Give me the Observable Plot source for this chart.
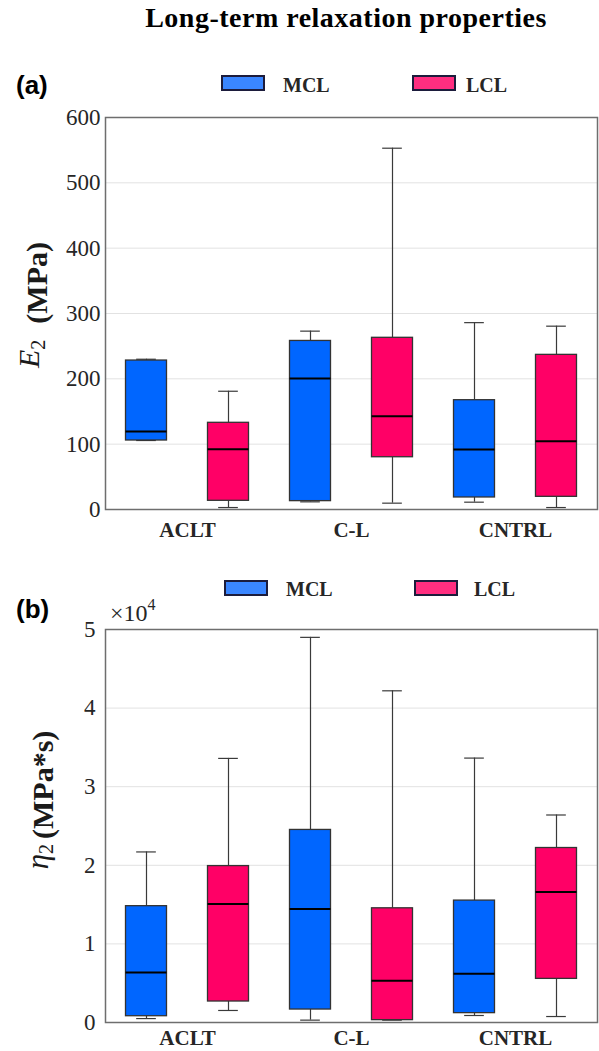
<!DOCTYPE html>
<html><head><meta charset="utf-8">
<script src="https://cdn.jsdelivr.net/npm/d3@7"></script>
<script src="https://cdn.jsdelivr.net/npm/@observablehq/plot@0.6"></script>
<style>
body{margin:0;background:#fff;}
#wrap{position:relative;width:599px;height:1051px;overflow:hidden;background:#fff;}
.abs{position:absolute;line-height:1;white-space:nowrap;}
.title{font-family:'Liberation Serif',serif;font-weight:bold;font-size:28px;letter-spacing:0.5px;color:#000;}
.plabel{font-family:'Liberation Sans',Arial,sans-serif;font-weight:bold;font-size:26px;color:#000;}
.legtxt{font-family:'Liberation Serif',serif;font-weight:bold;font-size:20px;color:#262626;}
.sw{position:absolute;box-sizing:border-box;border:2px solid #1c1c3c;}
.panel{position:absolute;left:0;}
.panel svg text{font-family:'Liberation Serif',serif;}
.panel svg [aria-label="x-axis tick label"] text{font-weight:bold;}
</style></head><body><div id="wrap"></div>
<script>
const groups = ["ACLT", "C-L", "CNTRL"];
const ligaments = ["MCL", "LCL"];
// box stats per group: [min, q1, median, q3, max]
const e2MCL = [[105.6,105.6,119.4,228,230],[11.7,12.8,200.5,258,273],[11.2,18.4,91.8,167.3,286]];
const e2LCL = [[3,13.3,92.3,132.7,181],[9.7,80,142.9,262.8,553],[3,19.4,104.6,236.7,280.6]];
// eta2 in units of 10^4 MPa*s
const eta2MCL = [[0.05,0.08,0.636,1.48,2.17],[0.03,0.165,1.445,2.45,4.90],[0.089,0.119,0.619,1.551,3.364]];
const eta2LCL = [[0.153,0.267,1.508,1.99,3.36],[0.03,0.03,0.53,1.453,4.22],[0.076,0.555,1.66,2.22,2.64]];
const e2Ticks = [0,100,200,300,400,500,600];
const eta2Ticks = [0,1,2,3,4,5];
const boxColors = {MCL:"#0066ff", LCL:"#ff0066"};
const legendColors = {MCL:"#3a86ff", LCL:"#ff2e80"};

const wrap = document.getElementById("wrap");

function rowsOf(mcl, lcl){
  const rows = [];
  groups.forEach((g,gi)=>{
    [mcl,lcl].forEach((arr,li)=>{
      const [min,q1,median,q3,max] = arr[gi];
      rows.push({group:g, lig:ligaments[li], pos:gi*2+li+1, min,q1,median,q3,max});
    });
  });
  return rows;
}

function panel({mcl, lcl, ticks, height, mt, mb, tickPad, xPad}){
  const rows = rowsOf(mcl, lcl);
  const wc = "#3a3a3a";
  const lo = d=>d.pos-0.25, hi = d=>d.pos+0.25;
  const clo = d=>d.pos-0.12, chi = d=>d.pos+0.12;
  const boxMarks = ligaments.map(l => Plot.rect(rows.filter(r=>r.lig===l), {x1:lo, x2:hi, y1:"q1", y2:"q3", fill:boxColors[l], stroke:"#333", strokeWidth:1.3}));
  return Plot.plot({
    width:599, height, marginLeft:105, marginRight:2, marginTop:mt, marginBottom:mb,
    style:{fontFamily:"'Liberation Serif', serif", fontSize:"22px", color:"#262626", background:"transparent", overflow:"visible"},
    x:{domain:[0.5,6.5]},
    y:{domain:[ticks[0], ticks[ticks.length-1]]},
    marks:[
      Plot.gridY(ticks, {stroke:"#e2e2e2", strokeOpacity:1, strokeWidth:1}),
      Plot.axisY(ticks, {tickSize:0, tickPadding:tickPad, fontSize:23, label:null, tickFormat:d=>String(d)}),
      Plot.axisX(groups.map((g,i)=>i*2+1.5), {tickSize:0, tickPadding:xPad, fontSize:21, fontWeight:"bold", label:null, tickFormat:d=>groups[Math.round((d-1.5)/2)]}),
      Plot.ruleX(rows, {x:"pos", y1:"q3", y2:"max", stroke:wc, strokeWidth:1.2}),
      Plot.ruleX(rows, {x:"pos", y1:"min", y2:"q1", stroke:wc, strokeWidth:1.2}),
      Plot.ruleY(rows, {y:"max", x1:clo, x2:chi, stroke:wc, strokeWidth:1.2}),
      Plot.ruleY(rows, {y:"min", x1:clo, x2:chi, stroke:wc, strokeWidth:1.2}),
      ...boxMarks,
      Plot.ruleY(rows, {y:"median", x1:lo, x2:hi, stroke:"#000", strokeWidth:2}),
      Plot.frame({stroke:"#6e6e6e", strokeWidth:1.5})
    ]
  });
}

function addDiv(cls, text, left, top, extra){
  const d = document.createElement("div");
  d.className = "abs " + cls;
  d.textContent = text;
  d.style.left = left + "px"; d.style.top = top + "px";
  if (extra) Object.assign(d.style, extra);
  wrap.appendChild(d);
  return d;
}
function addSwatch(color, left, top){
  const s = document.createElement("div");
  s.className = "sw";
  Object.assign(s.style, {left:left+"px", top:top+"px", width:"44px", height:"16px", background:color});
  wrap.appendChild(s);
}

// title
addDiv("title", "Long-term relaxation properties", 346, 4, {transform:"translateX(-50%)"});

// panel (a)
addDiv("plabel", "(a)", 16, 72);
addSwatch(legendColors.MCL, 221, 75);
addDiv("legtxt", "MCL", 283, 75);
addSwatch(legendColors.LCL, 412, 75);
addDiv("legtxt", "LCL", 466, 75);

const pa = panel({mcl:e2MCL, lcl:e2LCL, ticks:e2Ticks, height:449, mt:17, mb:40, tickPad:5, xPad:13});
const da = document.createElement("div"); da.className="panel"; da.style.top="100px"; da.appendChild(pa); wrap.appendChild(da);
{
  const t = d3.select(pa).append("text")
    .attr("transform","translate(47,205) rotate(-90)")
    .attr("text-anchor","middle")
    .attr("fill","#1a1a1a");
  t.append("tspan").attr("font-style","italic").attr("font-size",30).attr("dy",-8).text("E");
  t.append("tspan").attr("font-size",20).attr("dy",6).text("2");
  t.append("tspan").attr("font-weight","bold").attr("font-size",30).attr("dy",2).attr("dx",16).text("(MPa)");
}

// panel (b)
addDiv("plabel", "(b)", 16, 596);
addSwatch(legendColors.MCL, 224, 580);
addDiv("legtxt", "MCL", 286, 579);
addSwatch(legendColors.LCL, 414, 580);
addDiv("legtxt", "LCL", 474, 579);

const pb = panel({mcl:eta2MCL, lcl:eta2LCL, ticks:eta2Ticks, height:451, mt:29, mb:29, tickPad:10, xPad:8});
const db = document.createElement("div"); db.className="panel"; db.style.top="600px"; db.appendChild(pb); wrap.appendChild(db);
{
  const t = d3.select(pb).append("text")
    .attr("transform","translate(53,200) rotate(-90)")
    .attr("text-anchor","middle")
    .attr("fill","#1a1a1a");
  t.append("tspan").attr("font-style","italic").attr("font-size",31).attr("dy",-5).text("η");
  t.append("tspan").attr("font-size",20).attr("dy",5).text("2");
  t.append("tspan").attr("font-weight","bold").attr("font-size",30).attr("dy",0).attr("dx",5).text("(MPa*s)");
  const m = d3.select(pb).append("text")
    .attr("x",110).attr("y",21)
    .attr("text-anchor","start")
    .attr("fill","#262626")
    .attr("font-size",24);
  m.append("tspan").text("×10");
  m.append("tspan").attr("font-size",16).attr("dy",-11).text("4");
}
</script>
</body></html>
